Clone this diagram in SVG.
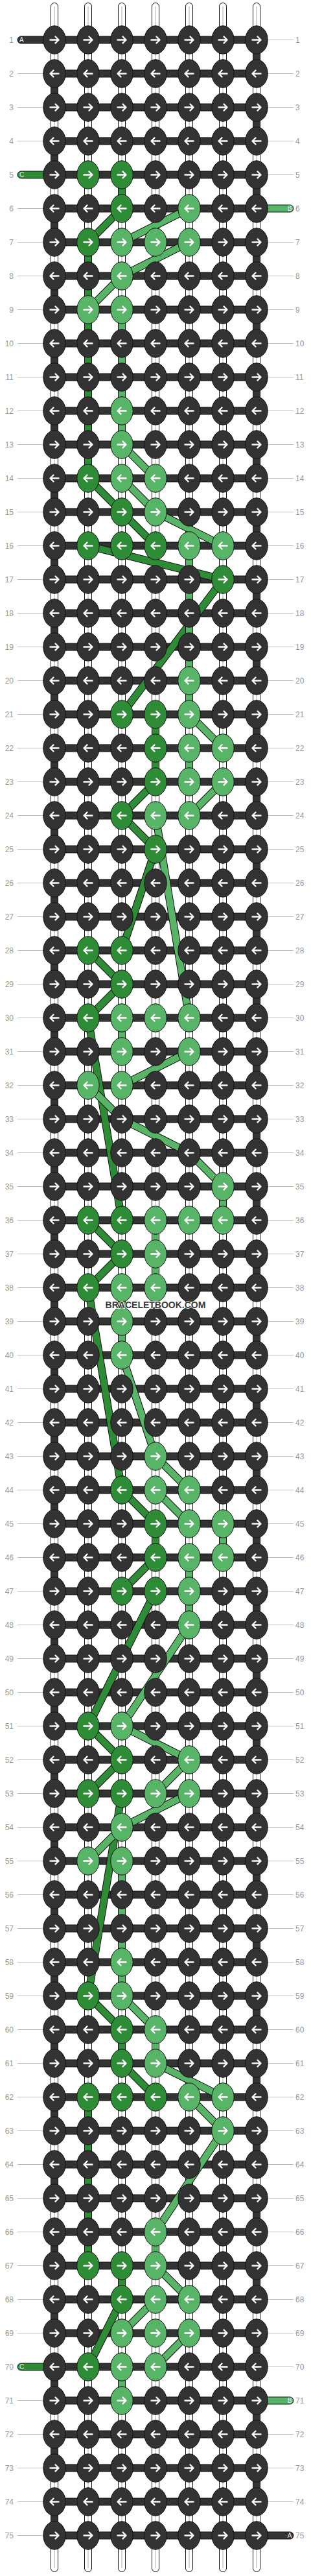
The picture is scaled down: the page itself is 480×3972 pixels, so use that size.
<svg xmlns="http://www.w3.org/2000/svg" width="480" height="3972" viewBox="0 0 480 3972">
<style>
.row{fill:#333}
.g{fill:#2e8c37}
.l{fill:#58b466}
.num{font-family:"Liberation Sans",Arial,sans-serif;font-size:12px;fill:#999}
.tl{font-family:"Liberation Sans",Arial,sans-serif;font-size:10px;fill:#eee}
.str{fill:#fff;stroke:#111;stroke-width:1}
.mid{fill:none;stroke:#c8c8c8;stroke-width:1.5}
.dk{fill:#333;stroke:#111;stroke-width:1}
.co{fill:none;stroke:#111;stroke-width:12;stroke-linejoin:round}
.cg{fill:none;stroke:#2e8c37;stroke-width:10;stroke-linejoin:round}
.cl{fill:none;stroke:#58b466;stroke-width:10;stroke-linejoin:round}
.lab{fill:none;stroke:#bbb;stroke-width:1}
.wm{font-family:"Liberation Sans",Arial,sans-serif;font-size:14px;font-weight:bold;fill:#3a3a3a;stroke:#fff;stroke-width:1.5;paint-order:stroke;text-anchor:middle}
</style>
<defs>
<g id="R"><ellipse rx="17.2" ry="21.7" stroke="#111" stroke-width="1"/><path d="M-6.5,0H6M1.5,-5L6.5,0L1.5,5" fill="none" stroke="#fff" stroke-width="2.4" stroke-linecap="round" stroke-linejoin="round"/></g>
<g id="L"><ellipse rx="17.2" ry="21.7" stroke="#111" stroke-width="1"/><path d="M6.5,0H-6M-1.5,-5L-6.5,0L-1.5,5" fill="none" stroke="#fff" stroke-width="2.4" stroke-linecap="round" stroke-linejoin="round"/></g>
<path id="pg" d="M188,269.5V321.5L136,373.5V737.5L188,789.5L240,841.5M136,841.5L344,893.5L188,1101.5M240,1101.5V1205.5L188,1257.5L240,1309.5L188,1465.5M136,1465.5L188,1517.5L136,1569.5L188,1881.5M136,1881.5L188,1933.5L136,1985.5L188,2297.5L240,2349.5V2401.5L188,2453.5M240,2453.5L136,2661.5L188,2713.5L136,2765.5M188,2765.5L136,3077.5L188,3129.5V3181.5L240,3233.5M136,3233.5V3493.5M188,3493.5V3545.5L136,3649.5"/>
<path id="pl" d="M292,321.5L188,373.5M292,373.5L188,425.5L136,477.5M188,477.5V685.5L240,737.5M188,737.5L240,789.5L344,841.5M292,841.5V1101.5L344,1153.5M292,1153.5V1205.5M344,1205.5L292,1257.5M240,1257.5L292,1569.5M188,1569.5V1621.5M292,1621.5L188,1673.5M136,1673.5L188,1725.5L292,1777.5L344,1829.5V1881.5M240,1881.5V1985.5M188,1985.5V2089.5L240,2245.5L292,2297.5M240,2297.5L292,2349.5M344,2349.5V2401.5M292,2401.5V2505.5L188,2661.5L292,2713.5L240,2765.5M292,2765.5L188,2817.5L136,2869.5M188,2869.5V3077.5L240,3129.5V3181.5L344,3233.5M292,3233.5L344,3285.5L240,3441.5V3493.5L292,3545.5M240,3545.5L188,3597.5M292,3597.5L240,3649.5M188,3649.5V3701.5"/>
</defs>
<rect width="480" height="3972" fill="#fff"/>
<g id="strings">
<rect class="str" x="78.5" y="4.5" width="11" height="3961" rx="5.5"/>
<rect class="str" x="130.5" y="4.5" width="11" height="3961" rx="5.5"/>
<rect class="str" x="182.5" y="4.5" width="11" height="3961" rx="5.5"/>
<rect class="str" x="234.5" y="4.5" width="11" height="3961" rx="5.5"/>
<rect class="str" x="286.5" y="4.5" width="11" height="3961" rx="5.5"/>
<rect class="str" x="338.5" y="4.5" width="11" height="3961" rx="5.5"/>
<rect class="str" x="390.5" y="4.5" width="11" height="3961" rx="5.5"/>
<path class="mid" d="M84,10V3960M136,10V3960M188,10V3960M240,10V3960M292,10V3960M344,10V3960M396,10V3960"/>
</g>
<g id="turns">
<path class="dk" d="M390.5,61.5h11v52h-11z
m0,104h11v52h-11zm0,104h11v52h-11zm0,104h11v52h-11zm0,104h11v52h-11zm0,104h11v52h-11zm0,104h11v52h-11zm0,104h11v52h-11zm0,104h11v52h-11zm0,104h11v52h-11zm0,104h11v52h-11z
m0,104h11v52h-11zm0,104h11v52h-11zm0,104h11v52h-11zm0,104h11v52h-11zm0,104h11v52h-11zm0,104h11v52h-11zm0,104h11v52h-11zm0,104h11v52h-11zm0,104h11v52h-11zm0,104h11v52h-11z
m0,104h11v52h-11zm0,104h11v52h-11zm0,104h11v52h-11zm0,104h11v52h-11zm0,104h11v52h-11zm0,104h11v52h-11zm0,104h11v52h-11zm0,104h11v52h-11zm0,104h11v52h-11zm0,104h11v52h-11z
m0,104h11v52h-11zm0,104h11v52h-11zm0,104h11v52h-11zm0,104h11v52h-11zm0,104h11v52h-11zm0,104h11v52h-11z"/>
<path class="dk" d="M78.5,113.5h11v52h-11z
m0,104h11v52h-11zm0,104h11v52h-11zm0,104h11v52h-11zm0,104h11v52h-11zm0,104h11v52h-11zm0,104h11v52h-11zm0,104h11v52h-11zm0,104h11v52h-11zm0,104h11v52h-11zm0,104h11v52h-11z
m0,104h11v52h-11zm0,104h11v52h-11zm0,104h11v52h-11zm0,104h11v52h-11zm0,104h11v52h-11zm0,104h11v52h-11zm0,104h11v52h-11zm0,104h11v52h-11zm0,104h11v52h-11zm0,104h11v52h-11z
m0,104h11v52h-11zm0,104h11v52h-11zm0,104h11v52h-11zm0,104h11v52h-11zm0,104h11v52h-11zm0,104h11v52h-11zm0,104h11v52h-11zm0,104h11v52h-11zm0,104h11v52h-11zm0,104h11v52h-11z
m0,104h11v52h-11zm0,104h11v52h-11zm0,104h11v52h-11zm0,104h11v52h-11zm0,104h11v52h-11zm0,104h11v52h-11z"/>
</g>
<g id="bars">
<path class="dk" d="M84,56h312v11h-312z
m0,52h312v11h-312zm0,52h312v11h-312zm0,52h312v11h-312zm0,52h312v11h-312zm0,52h312v11h-312zm0,52h312v11h-312zm0,52h312v11h-312zm0,52h312v11h-312zm0,52h312v11h-312zm0,52h312v11h-312z
m0,52h312v11h-312zm0,52h312v11h-312zm0,52h312v11h-312zm0,52h312v11h-312zm0,52h312v11h-312zm0,52h312v11h-312zm0,52h312v11h-312zm0,52h312v11h-312zm0,52h312v11h-312zm0,52h312v11h-312z
m0,52h312v11h-312zm0,52h312v11h-312zm0,52h312v11h-312zm0,52h312v11h-312zm0,52h312v11h-312zm0,52h312v11h-312zm0,52h312v11h-312zm0,52h312v11h-312zm0,52h312v11h-312zm0,52h312v11h-312z
m0,52h312v11h-312zm0,52h312v11h-312zm0,52h312v11h-312zm0,52h312v11h-312zm0,52h312v11h-312zm0,52h312v11h-312zm0,52h312v11h-312zm0,52h312v11h-312zm0,52h312v11h-312zm0,52h312v11h-312z
m0,52h312v11h-312zm0,52h312v11h-312zm0,52h312v11h-312zm0,52h312v11h-312zm0,52h312v11h-312zm0,52h312v11h-312zm0,52h312v11h-312zm0,52h312v11h-312zm0,52h312v11h-312zm0,52h312v11h-312z
m0,52h312v11h-312zm0,52h312v11h-312zm0,52h312v11h-312zm0,52h312v11h-312zm0,52h312v11h-312zm0,52h312v11h-312zm0,52h312v11h-312zm0,52h312v11h-312zm0,52h312v11h-312zm0,52h312v11h-312z
m0,52h312v11h-312zm0,52h312v11h-312zm0,52h312v11h-312zm0,52h312v11h-312zm0,52h312v11h-312zm0,52h312v11h-312zm0,52h312v11h-312zm0,52h312v11h-312zm0,52h312v11h-312zm0,52h312v11h-312z
m0,52h312v11h-312zm0,52h312v11h-312zm0,52h312v11h-312zm0,52h312v11h-312z"/>
</g>
<g id="label-lines">
<path class="lab" d="M27,61.5h40
m-40,52h40m-40,52h40m-40,52h40m-40,52h40m-40,52h40m-40,52h40m-40,52h40m-40,52h40m-40,52h40m-40,52h40
m-40,52h40m-40,52h40m-40,52h40m-40,52h40m-40,52h40m-40,52h40m-40,52h40m-40,52h40m-40,52h40m-40,52h40
m-40,52h40m-40,52h40m-40,52h40m-40,52h40m-40,52h40m-40,52h40m-40,52h40m-40,52h40m-40,52h40m-40,52h40
m-40,52h40m-40,52h40m-40,52h40m-40,52h40m-40,52h40m-40,52h40m-40,52h40m-40,52h40m-40,52h40m-40,52h40
m-40,52h40m-40,52h40m-40,52h40m-40,52h40m-40,52h40m-40,52h40m-40,52h40m-40,52h40m-40,52h40m-40,52h40
m-40,52h40m-40,52h40m-40,52h40m-40,52h40m-40,52h40m-40,52h40m-40,52h40m-40,52h40m-40,52h40m-40,52h40
m-40,52h40m-40,52h40m-40,52h40m-40,52h40m-40,52h40m-40,52h40m-40,52h40m-40,52h40m-40,52h40m-40,52h40
m-40,52h40m-40,52h40m-40,52h40m-40,52h40"/>
<path class="lab" d="M413,61.5h40
m-40,52h40m-40,52h40m-40,52h40m-40,52h40m-40,52h40m-40,52h40m-40,52h40m-40,52h40m-40,52h40m-40,52h40
m-40,52h40m-40,52h40m-40,52h40m-40,52h40m-40,52h40m-40,52h40m-40,52h40m-40,52h40m-40,52h40m-40,52h40
m-40,52h40m-40,52h40m-40,52h40m-40,52h40m-40,52h40m-40,52h40m-40,52h40m-40,52h40m-40,52h40m-40,52h40
m-40,52h40m-40,52h40m-40,52h40m-40,52h40m-40,52h40m-40,52h40m-40,52h40m-40,52h40m-40,52h40m-40,52h40
m-40,52h40m-40,52h40m-40,52h40m-40,52h40m-40,52h40m-40,52h40m-40,52h40m-40,52h40m-40,52h40m-40,52h40
m-40,52h40m-40,52h40m-40,52h40m-40,52h40m-40,52h40m-40,52h40m-40,52h40m-40,52h40m-40,52h40m-40,52h40
m-40,52h40m-40,52h40m-40,52h40m-40,52h40m-40,52h40m-40,52h40m-40,52h40m-40,52h40m-40,52h40m-40,52h40
m-40,52h40m-40,52h40m-40,52h40m-40,52h40"/>
</g>
<g id="tails">
<g id="tail-A-start"><path class="dk" d="M84,56H32.5a5.5,5.5 0 0 0 0,11H84Z"/><text class="tl" x="30" y="65">A</text></g>
<g id="tail-C-start"><path d="M84,264H32.5a5.5,5.5 0 0 0 0,11H84Z" fill="#2e8c37" stroke="#111"/><text class="tl" x="30" y="273">C</text></g>
<g id="tail-B-start"><path d="M396,316H447.5a5.5,5.5 0 0 1 0,11H396Z" fill="#58b466" stroke="#111"/><text class="tl" x="450.5" y="325" text-anchor="end">B</text></g>
<g id="tail-C-end"><path d="M84,3644H32.5a5.5,5.5 0 0 0 0,11H84Z" fill="#2e8c37" stroke="#111"/><text class="tl" x="30" y="3653">C</text></g>
<g id="tail-B-end"><path d="M396,3696H447.5a5.5,5.5 0 0 1 0,11H396Z" fill="#58b466" stroke="#111"/><text class="tl" x="450.5" y="3705" text-anchor="end">B</text></g>
<g id="tail-A-end"><path class="dk" d="M396,3904H447.5a5.5,5.5 0 0 1 0,11H396Z"/><text class="tl" x="450.5" y="3913" text-anchor="end">A</text></g>
</g>
<g id="connectors">
<use href="#pg" class="co"/>
<use href="#pg" class="cg"/>
<use href="#pl" class="co"/>
<use href="#pl" class="cl"/>
</g>
<g id="knots">
<g id="row-1" class="row" transform="translate(0,61.5)"><use href="#R" x="84"/><use href="#R" x="136"/><use href="#R" x="188"/><use href="#R" x="240"/><use href="#R" x="292"/><use href="#R" x="344"/><use href="#R" x="396"/></g>
<g id="row-2" class="row" transform="translate(0,113.5)"><use href="#L" x="84"/><use href="#L" x="136"/><use href="#L" x="188"/><use href="#L" x="240"/><use href="#L" x="292"/><use href="#L" x="344"/><use href="#L" x="396"/></g>
<g id="row-3" class="row" transform="translate(0,165.5)"><use href="#R" x="84"/><use href="#R" x="136"/><use href="#R" x="188"/><use href="#R" x="240"/><use href="#R" x="292"/><use href="#R" x="344"/><use href="#R" x="396"/></g>
<g id="row-4" class="row" transform="translate(0,217.5)"><use href="#L" x="84"/><use href="#L" x="136"/><use href="#L" x="188"/><use href="#L" x="240"/><use href="#L" x="292"/><use href="#L" x="344"/><use href="#L" x="396"/></g>
<g id="row-5" class="row" transform="translate(0,269.5)"><use href="#R" x="84"/><use href="#R" x="136" class="g"/><use href="#R" x="188" class="g"/><use href="#R" x="240"/><use href="#R" x="292"/><use href="#R" x="344"/><use href="#R" x="396"/></g>
<g id="row-6" class="row" transform="translate(0,321.5)"><use href="#L" x="84"/><use href="#L" x="136"/><use href="#L" x="188" class="g"/><use href="#L" x="240"/><use href="#L" x="292" class="l"/><use href="#L" x="344"/><use href="#L" x="396"/></g>
<g id="row-7" class="row" transform="translate(0,373.5)"><use href="#R" x="84"/><use href="#R" x="136" class="g"/><use href="#R" x="188" class="l"/><use href="#R" x="240" class="l"/><use href="#R" x="292" class="l"/><use href="#R" x="344"/><use href="#R" x="396"/></g>
<g id="row-8" class="row" transform="translate(0,425.5)"><use href="#L" x="84"/><use href="#L" x="136"/><use href="#L" x="188" class="l"/><use href="#L" x="240"/><use href="#L" x="292"/><use href="#L" x="344"/><use href="#L" x="396"/></g>
<g id="row-9" class="row" transform="translate(0,477.5)"><use href="#R" x="84"/><use href="#R" x="136" class="l"/><use href="#R" x="188" class="l"/><use href="#R" x="240"/><use href="#R" x="292"/><use href="#R" x="344"/><use href="#R" x="396"/></g>
<g id="row-10" class="row" transform="translate(0,529.5)"><use href="#L" x="84"/><use href="#L" x="136"/><use href="#L" x="188"/><use href="#L" x="240"/><use href="#L" x="292"/><use href="#L" x="344"/><use href="#L" x="396"/></g>
<g id="row-11" class="row" transform="translate(0,581.5)"><use href="#R" x="84"/><use href="#R" x="136"/><use href="#R" x="188"/><use href="#R" x="240"/><use href="#R" x="292"/><use href="#R" x="344"/><use href="#R" x="396"/></g>
<g id="row-12" class="row" transform="translate(0,633.5)"><use href="#L" x="84"/><use href="#L" x="136"/><use href="#L" x="188" class="l"/><use href="#L" x="240"/><use href="#L" x="292"/><use href="#L" x="344"/><use href="#L" x="396"/></g>
<g id="row-13" class="row" transform="translate(0,685.5)"><use href="#R" x="84"/><use href="#R" x="136"/><use href="#R" x="188" class="l"/><use href="#R" x="240"/><use href="#R" x="292"/><use href="#R" x="344"/><use href="#R" x="396"/></g>
<g id="row-14" class="row" transform="translate(0,737.5)"><use href="#L" x="84"/><use href="#L" x="136" class="g"/><use href="#L" x="188" class="l"/><use href="#L" x="240" class="l"/><use href="#L" x="292"/><use href="#L" x="344"/><use href="#L" x="396"/></g>
<g id="row-15" class="row" transform="translate(0,789.5)"><use href="#R" x="84"/><use href="#R" x="136"/><use href="#R" x="188" class="g"/><use href="#R" x="240" class="l"/><use href="#R" x="292"/><use href="#R" x="344"/><use href="#R" x="396"/></g>
<g id="row-16" class="row" transform="translate(0,841.5)"><use href="#L" x="84"/><use href="#L" x="136" class="g"/><use href="#L" x="188" class="g"/><use href="#L" x="240" class="g"/><use href="#L" x="292" class="l"/><use href="#L" x="344" class="l"/><use href="#L" x="396"/></g>
<g id="row-17" class="row" transform="translate(0,893.5)"><use href="#R" x="84"/><use href="#R" x="136"/><use href="#R" x="188"/><use href="#R" x="240"/><use href="#R" x="292"/><use href="#R" x="344" class="g"/><use href="#R" x="396"/></g>
<g id="row-18" class="row" transform="translate(0,945.5)"><use href="#L" x="84"/><use href="#L" x="136"/><use href="#L" x="188"/><use href="#L" x="240"/><use href="#L" x="292"/><use href="#L" x="344"/><use href="#L" x="396"/></g>
<g id="row-19" class="row" transform="translate(0,997.5)"><use href="#R" x="84"/><use href="#R" x="136"/><use href="#R" x="188"/><use href="#R" x="240"/><use href="#R" x="292"/><use href="#R" x="344"/><use href="#R" x="396"/></g>
<g id="row-20" class="row" transform="translate(0,1049.5)"><use href="#L" x="84"/><use href="#L" x="136"/><use href="#L" x="188"/><use href="#L" x="240"/><use href="#L" x="292" class="l"/><use href="#L" x="344"/><use href="#L" x="396"/></g>
<g id="row-21" class="row" transform="translate(0,1101.5)"><use href="#R" x="84"/><use href="#R" x="136"/><use href="#R" x="188" class="g"/><use href="#R" x="240" class="g"/><use href="#R" x="292" class="l"/><use href="#R" x="344"/><use href="#R" x="396"/></g>
<g id="row-22" class="row" transform="translate(0,1153.5)"><use href="#L" x="84"/><use href="#L" x="136"/><use href="#L" x="188"/><use href="#L" x="240" class="g"/><use href="#L" x="292" class="l"/><use href="#L" x="344" class="l"/><use href="#L" x="396"/></g>
<g id="row-23" class="row" transform="translate(0,1205.5)"><use href="#R" x="84"/><use href="#R" x="136"/><use href="#R" x="188"/><use href="#R" x="240" class="g"/><use href="#R" x="292" class="l"/><use href="#R" x="344" class="l"/><use href="#R" x="396"/></g>
<g id="row-24" class="row" transform="translate(0,1257.5)"><use href="#L" x="84"/><use href="#L" x="136"/><use href="#L" x="188" class="g"/><use href="#L" x="240" class="l"/><use href="#L" x="292" class="l"/><use href="#L" x="344"/><use href="#L" x="396"/></g>
<g id="row-25" class="row" transform="translate(0,1309.5)"><use href="#R" x="84"/><use href="#R" x="136"/><use href="#R" x="188"/><use href="#R" x="240" class="g"/><use href="#R" x="292"/><use href="#R" x="344"/><use href="#R" x="396"/></g>
<g id="row-26" class="row" transform="translate(0,1361.5)"><use href="#L" x="84"/><use href="#L" x="136"/><use href="#L" x="188"/><use href="#L" x="240"/><use href="#L" x="292"/><use href="#L" x="344"/><use href="#L" x="396"/></g>
<g id="row-27" class="row" transform="translate(0,1413.5)"><use href="#R" x="84"/><use href="#R" x="136"/><use href="#R" x="188"/><use href="#R" x="240"/><use href="#R" x="292"/><use href="#R" x="344"/><use href="#R" x="396"/></g>
<g id="row-28" class="row" transform="translate(0,1465.5)"><use href="#L" x="84"/><use href="#L" x="136" class="g"/><use href="#L" x="188" class="g"/><use href="#L" x="240"/><use href="#L" x="292"/><use href="#L" x="344"/><use href="#L" x="396"/></g>
<g id="row-29" class="row" transform="translate(0,1517.5)"><use href="#R" x="84"/><use href="#R" x="136"/><use href="#R" x="188" class="g"/><use href="#R" x="240"/><use href="#R" x="292"/><use href="#R" x="344"/><use href="#R" x="396"/></g>
<g id="row-30" class="row" transform="translate(0,1569.5)"><use href="#L" x="84"/><use href="#L" x="136" class="g"/><use href="#L" x="188" class="l"/><use href="#L" x="240" class="l"/><use href="#L" x="292" class="l"/><use href="#L" x="344"/><use href="#L" x="396"/></g>
<g id="row-31" class="row" transform="translate(0,1621.5)"><use href="#R" x="84"/><use href="#R" x="136"/><use href="#R" x="188" class="l"/><use href="#R" x="240"/><use href="#R" x="292" class="l"/><use href="#R" x="344"/><use href="#R" x="396"/></g>
<g id="row-32" class="row" transform="translate(0,1673.5)"><use href="#L" x="84"/><use href="#L" x="136" class="l"/><use href="#L" x="188" class="l"/><use href="#L" x="240"/><use href="#L" x="292"/><use href="#L" x="344"/><use href="#L" x="396"/></g>
<g id="row-33" class="row" transform="translate(0,1725.5)"><use href="#R" x="84"/><use href="#R" x="136"/><use href="#R" x="188"/><use href="#R" x="240"/><use href="#R" x="292"/><use href="#R" x="344"/><use href="#R" x="396"/></g>
<g id="row-34" class="row" transform="translate(0,1777.5)"><use href="#L" x="84"/><use href="#L" x="136"/><use href="#L" x="188"/><use href="#L" x="240"/><use href="#L" x="292"/><use href="#L" x="344"/><use href="#L" x="396"/></g>
<g id="row-35" class="row" transform="translate(0,1829.5)"><use href="#R" x="84"/><use href="#R" x="136"/><use href="#R" x="188"/><use href="#R" x="240"/><use href="#R" x="292"/><use href="#R" x="344" class="l"/><use href="#R" x="396"/></g>
<g id="row-36" class="row" transform="translate(0,1881.5)"><use href="#L" x="84"/><use href="#L" x="136" class="g"/><use href="#L" x="188" class="g"/><use href="#L" x="240" class="l"/><use href="#L" x="292" class="l"/><use href="#L" x="344" class="l"/><use href="#L" x="396"/></g>
<g id="row-37" class="row" transform="translate(0,1933.5)"><use href="#R" x="84"/><use href="#R" x="136"/><use href="#R" x="188" class="g"/><use href="#R" x="240" class="l"/><use href="#R" x="292"/><use href="#R" x="344"/><use href="#R" x="396"/></g>
<g id="row-38" class="row" transform="translate(0,1985.5)"><use href="#L" x="84"/><use href="#L" x="136" class="g"/><use href="#L" x="188" class="l"/><use href="#L" x="240" class="l"/><use href="#L" x="292"/><use href="#L" x="344"/><use href="#L" x="396"/></g>
<g id="row-39" class="row" transform="translate(0,2037.5)"><use href="#R" x="84"/><use href="#R" x="136"/><use href="#R" x="188" class="l"/><use href="#R" x="240"/><use href="#R" x="292"/><use href="#R" x="344"/><use href="#R" x="396"/></g>
<g id="row-40" class="row" transform="translate(0,2089.5)"><use href="#L" x="84"/><use href="#L" x="136"/><use href="#L" x="188" class="l"/><use href="#L" x="240"/><use href="#L" x="292"/><use href="#L" x="344"/><use href="#L" x="396"/></g>
<g id="row-41" class="row" transform="translate(0,2141.5)"><use href="#R" x="84"/><use href="#R" x="136"/><use href="#R" x="188"/><use href="#R" x="240"/><use href="#R" x="292"/><use href="#R" x="344"/><use href="#R" x="396"/></g>
<g id="row-42" class="row" transform="translate(0,2193.5)"><use href="#L" x="84"/><use href="#L" x="136"/><use href="#L" x="188"/><use href="#L" x="240"/><use href="#L" x="292"/><use href="#L" x="344"/><use href="#L" x="396"/></g>
<g id="row-43" class="row" transform="translate(0,2245.5)"><use href="#R" x="84"/><use href="#R" x="136"/><use href="#R" x="188"/><use href="#R" x="240" class="l"/><use href="#R" x="292"/><use href="#R" x="344"/><use href="#R" x="396"/></g>
<g id="row-44" class="row" transform="translate(0,2297.5)"><use href="#L" x="84"/><use href="#L" x="136"/><use href="#L" x="188" class="g"/><use href="#L" x="240" class="l"/><use href="#L" x="292" class="l"/><use href="#L" x="344"/><use href="#L" x="396"/></g>
<g id="row-45" class="row" transform="translate(0,2349.5)"><use href="#R" x="84"/><use href="#R" x="136"/><use href="#R" x="188"/><use href="#R" x="240" class="g"/><use href="#R" x="292" class="l"/><use href="#R" x="344" class="l"/><use href="#R" x="396"/></g>
<g id="row-46" class="row" transform="translate(0,2401.5)"><use href="#L" x="84"/><use href="#L" x="136"/><use href="#L" x="188"/><use href="#L" x="240" class="g"/><use href="#L" x="292" class="l"/><use href="#L" x="344" class="l"/><use href="#L" x="396"/></g>
<g id="row-47" class="row" transform="translate(0,2453.5)"><use href="#R" x="84"/><use href="#R" x="136"/><use href="#R" x="188" class="g"/><use href="#R" x="240" class="g"/><use href="#R" x="292" class="l"/><use href="#R" x="344"/><use href="#R" x="396"/></g>
<g id="row-48" class="row" transform="translate(0,2505.5)"><use href="#L" x="84"/><use href="#L" x="136"/><use href="#L" x="188"/><use href="#L" x="240"/><use href="#L" x="292" class="l"/><use href="#L" x="344"/><use href="#L" x="396"/></g>
<g id="row-49" class="row" transform="translate(0,2557.5)"><use href="#R" x="84"/><use href="#R" x="136"/><use href="#R" x="188"/><use href="#R" x="240"/><use href="#R" x="292"/><use href="#R" x="344"/><use href="#R" x="396"/></g>
<g id="row-50" class="row" transform="translate(0,2609.5)"><use href="#L" x="84"/><use href="#L" x="136"/><use href="#L" x="188"/><use href="#L" x="240"/><use href="#L" x="292"/><use href="#L" x="344"/><use href="#L" x="396"/></g>
<g id="row-51" class="row" transform="translate(0,2661.5)"><use href="#R" x="84"/><use href="#R" x="136" class="g"/><use href="#R" x="188" class="l"/><use href="#R" x="240"/><use href="#R" x="292"/><use href="#R" x="344"/><use href="#R" x="396"/></g>
<g id="row-52" class="row" transform="translate(0,2713.5)"><use href="#L" x="84"/><use href="#L" x="136"/><use href="#L" x="188" class="g"/><use href="#L" x="240"/><use href="#L" x="292" class="l"/><use href="#L" x="344"/><use href="#L" x="396"/></g>
<g id="row-53" class="row" transform="translate(0,2765.5)"><use href="#R" x="84"/><use href="#R" x="136" class="g"/><use href="#R" x="188" class="g"/><use href="#R" x="240" class="l"/><use href="#R" x="292" class="l"/><use href="#R" x="344"/><use href="#R" x="396"/></g>
<g id="row-54" class="row" transform="translate(0,2817.5)"><use href="#L" x="84"/><use href="#L" x="136"/><use href="#L" x="188" class="l"/><use href="#L" x="240"/><use href="#L" x="292"/><use href="#L" x="344"/><use href="#L" x="396"/></g>
<g id="row-55" class="row" transform="translate(0,2869.5)"><use href="#R" x="84"/><use href="#R" x="136" class="l"/><use href="#R" x="188" class="l"/><use href="#R" x="240"/><use href="#R" x="292"/><use href="#R" x="344"/><use href="#R" x="396"/></g>
<g id="row-56" class="row" transform="translate(0,2921.5)"><use href="#L" x="84"/><use href="#L" x="136"/><use href="#L" x="188"/><use href="#L" x="240"/><use href="#L" x="292"/><use href="#L" x="344"/><use href="#L" x="396"/></g>
<g id="row-57" class="row" transform="translate(0,2973.5)"><use href="#R" x="84"/><use href="#R" x="136"/><use href="#R" x="188"/><use href="#R" x="240"/><use href="#R" x="292"/><use href="#R" x="344"/><use href="#R" x="396"/></g>
<g id="row-58" class="row" transform="translate(0,3025.5)"><use href="#L" x="84"/><use href="#L" x="136"/><use href="#L" x="188" class="l"/><use href="#L" x="240"/><use href="#L" x="292"/><use href="#L" x="344"/><use href="#L" x="396"/></g>
<g id="row-59" class="row" transform="translate(0,3077.5)"><use href="#R" x="84"/><use href="#R" x="136" class="g"/><use href="#R" x="188" class="l"/><use href="#R" x="240"/><use href="#R" x="292"/><use href="#R" x="344"/><use href="#R" x="396"/></g>
<g id="row-60" class="row" transform="translate(0,3129.5)"><use href="#L" x="84"/><use href="#L" x="136"/><use href="#L" x="188" class="g"/><use href="#L" x="240" class="l"/><use href="#L" x="292"/><use href="#L" x="344"/><use href="#L" x="396"/></g>
<g id="row-61" class="row" transform="translate(0,3181.5)"><use href="#R" x="84"/><use href="#R" x="136"/><use href="#R" x="188" class="g"/><use href="#R" x="240" class="l"/><use href="#R" x="292"/><use href="#R" x="344"/><use href="#R" x="396"/></g>
<g id="row-62" class="row" transform="translate(0,3233.5)"><use href="#L" x="84"/><use href="#L" x="136" class="g"/><use href="#L" x="188" class="g"/><use href="#L" x="240" class="g"/><use href="#L" x="292" class="l"/><use href="#L" x="344" class="l"/><use href="#L" x="396"/></g>
<g id="row-63" class="row" transform="translate(0,3285.5)"><use href="#R" x="84"/><use href="#R" x="136"/><use href="#R" x="188"/><use href="#R" x="240"/><use href="#R" x="292"/><use href="#R" x="344" class="l"/><use href="#R" x="396"/></g>
<g id="row-64" class="row" transform="translate(0,3337.5)"><use href="#L" x="84"/><use href="#L" x="136"/><use href="#L" x="188"/><use href="#L" x="240"/><use href="#L" x="292"/><use href="#L" x="344"/><use href="#L" x="396"/></g>
<g id="row-65" class="row" transform="translate(0,3389.5)"><use href="#R" x="84"/><use href="#R" x="136"/><use href="#R" x="188"/><use href="#R" x="240"/><use href="#R" x="292"/><use href="#R" x="344"/><use href="#R" x="396"/></g>
<g id="row-66" class="row" transform="translate(0,3441.5)"><use href="#L" x="84"/><use href="#L" x="136"/><use href="#L" x="188"/><use href="#L" x="240" class="l"/><use href="#L" x="292"/><use href="#L" x="344"/><use href="#L" x="396"/></g>
<g id="row-67" class="row" transform="translate(0,3493.5)"><use href="#R" x="84"/><use href="#R" x="136" class="g"/><use href="#R" x="188" class="g"/><use href="#R" x="240" class="l"/><use href="#R" x="292"/><use href="#R" x="344"/><use href="#R" x="396"/></g>
<g id="row-68" class="row" transform="translate(0,3545.5)"><use href="#L" x="84"/><use href="#L" x="136"/><use href="#L" x="188" class="g"/><use href="#L" x="240" class="l"/><use href="#L" x="292" class="l"/><use href="#L" x="344"/><use href="#L" x="396"/></g>
<g id="row-69" class="row" transform="translate(0,3597.5)"><use href="#R" x="84"/><use href="#R" x="136"/><use href="#R" x="188" class="l"/><use href="#R" x="240" class="l"/><use href="#R" x="292" class="l"/><use href="#R" x="344"/><use href="#R" x="396"/></g>
<g id="row-70" class="row" transform="translate(0,3649.5)"><use href="#L" x="84"/><use href="#L" x="136" class="g"/><use href="#L" x="188" class="l"/><use href="#L" x="240" class="l"/><use href="#L" x="292"/><use href="#L" x="344"/><use href="#L" x="396"/></g>
<g id="row-71" class="row" transform="translate(0,3701.5)"><use href="#R" x="84"/><use href="#R" x="136"/><use href="#R" x="188" class="l"/><use href="#R" x="240"/><use href="#R" x="292"/><use href="#R" x="344"/><use href="#R" x="396"/></g>
<g id="row-72" class="row" transform="translate(0,3753.5)"><use href="#L" x="84"/><use href="#L" x="136"/><use href="#L" x="188"/><use href="#L" x="240"/><use href="#L" x="292"/><use href="#L" x="344"/><use href="#L" x="396"/></g>
<g id="row-73" class="row" transform="translate(0,3805.5)"><use href="#R" x="84"/><use href="#R" x="136"/><use href="#R" x="188"/><use href="#R" x="240"/><use href="#R" x="292"/><use href="#R" x="344"/><use href="#R" x="396"/></g>
<g id="row-74" class="row" transform="translate(0,3857.5)"><use href="#L" x="84"/><use href="#L" x="136"/><use href="#L" x="188"/><use href="#L" x="240"/><use href="#L" x="292"/><use href="#L" x="344"/><use href="#L" x="396"/></g>
<g id="row-75" class="row" transform="translate(0,3909.5)"><use href="#R" x="84"/><use href="#R" x="136"/><use href="#R" x="188"/><use href="#R" x="240"/><use href="#R" x="292"/><use href="#R" x="344"/><use href="#R" x="396"/></g>
</g>
<g id="row-numbers-left" class="num" text-anchor="end">
<text x="21" y="66">1</text><text x="21" y="118">2</text><text x="21" y="170">3</text><text x="21" y="222">4</text><text x="21" y="274">5</text><text x="21" y="326">6</text><text x="21" y="378">7</text><text x="21" y="430">8</text><text x="21" y="482">9</text><text x="21" y="534">10</text>
<text x="21" y="586">11</text><text x="21" y="638">12</text><text x="21" y="690">13</text><text x="21" y="742">14</text><text x="21" y="794">15</text><text x="21" y="846">16</text><text x="21" y="898">17</text><text x="21" y="950">18</text><text x="21" y="1002">19</text><text x="21" y="1054">20</text>
<text x="21" y="1106">21</text><text x="21" y="1158">22</text><text x="21" y="1210">23</text><text x="21" y="1262">24</text><text x="21" y="1314">25</text><text x="21" y="1366">26</text><text x="21" y="1418">27</text><text x="21" y="1470">28</text><text x="21" y="1522">29</text><text x="21" y="1574">30</text>
<text x="21" y="1626">31</text><text x="21" y="1678">32</text><text x="21" y="1730">33</text><text x="21" y="1782">34</text><text x="21" y="1834">35</text><text x="21" y="1886">36</text><text x="21" y="1938">37</text><text x="21" y="1990">38</text><text x="21" y="2042">39</text><text x="21" y="2094">40</text>
<text x="21" y="2146">41</text><text x="21" y="2198">42</text><text x="21" y="2250">43</text><text x="21" y="2302">44</text><text x="21" y="2354">45</text><text x="21" y="2406">46</text><text x="21" y="2458">47</text><text x="21" y="2510">48</text><text x="21" y="2562">49</text><text x="21" y="2614">50</text>
<text x="21" y="2666">51</text><text x="21" y="2718">52</text><text x="21" y="2770">53</text><text x="21" y="2822">54</text><text x="21" y="2874">55</text><text x="21" y="2926">56</text><text x="21" y="2978">57</text><text x="21" y="3030">58</text><text x="21" y="3082">59</text><text x="21" y="3134">60</text>
<text x="21" y="3186">61</text><text x="21" y="3238">62</text><text x="21" y="3290">63</text><text x="21" y="3342">64</text><text x="21" y="3394">65</text><text x="21" y="3446">66</text><text x="21" y="3498">67</text><text x="21" y="3550">68</text><text x="21" y="3602">69</text><text x="21" y="3654">70</text>
<text x="21" y="3706">71</text><text x="21" y="3758">72</text><text x="21" y="3810">73</text><text x="21" y="3862">74</text><text x="21" y="3914">75</text>
</g>
<g id="row-numbers-right" class="num">
<text x="456" y="66">1</text><text x="456" y="118">2</text><text x="456" y="170">3</text><text x="456" y="222">4</text><text x="456" y="274">5</text><text x="456" y="326">6</text><text x="456" y="378">7</text><text x="456" y="430">8</text><text x="456" y="482">9</text><text x="456" y="534">10</text>
<text x="456" y="586">11</text><text x="456" y="638">12</text><text x="456" y="690">13</text><text x="456" y="742">14</text><text x="456" y="794">15</text><text x="456" y="846">16</text><text x="456" y="898">17</text><text x="456" y="950">18</text><text x="456" y="1002">19</text><text x="456" y="1054">20</text>
<text x="456" y="1106">21</text><text x="456" y="1158">22</text><text x="456" y="1210">23</text><text x="456" y="1262">24</text><text x="456" y="1314">25</text><text x="456" y="1366">26</text><text x="456" y="1418">27</text><text x="456" y="1470">28</text><text x="456" y="1522">29</text><text x="456" y="1574">30</text>
<text x="456" y="1626">31</text><text x="456" y="1678">32</text><text x="456" y="1730">33</text><text x="456" y="1782">34</text><text x="456" y="1834">35</text><text x="456" y="1886">36</text><text x="456" y="1938">37</text><text x="456" y="1990">38</text><text x="456" y="2042">39</text><text x="456" y="2094">40</text>
<text x="456" y="2146">41</text><text x="456" y="2198">42</text><text x="456" y="2250">43</text><text x="456" y="2302">44</text><text x="456" y="2354">45</text><text x="456" y="2406">46</text><text x="456" y="2458">47</text><text x="456" y="2510">48</text><text x="456" y="2562">49</text><text x="456" y="2614">50</text>
<text x="456" y="2666">51</text><text x="456" y="2718">52</text><text x="456" y="2770">53</text><text x="456" y="2822">54</text><text x="456" y="2874">55</text><text x="456" y="2926">56</text><text x="456" y="2978">57</text><text x="456" y="3030">58</text><text x="456" y="3082">59</text><text x="456" y="3134">60</text>
<text x="456" y="3186">61</text><text x="456" y="3238">62</text><text x="456" y="3290">63</text><text x="456" y="3342">64</text><text x="456" y="3394">65</text><text x="456" y="3446">66</text><text x="456" y="3498">67</text><text x="456" y="3550">68</text><text x="456" y="3602">69</text><text x="456" y="3654">70</text>
<text x="456" y="3706">71</text><text x="456" y="3758">72</text><text x="456" y="3810">73</text><text x="456" y="3862">74</text><text x="456" y="3914">75</text>
</g>
<text id="watermark" class="wm" x="240" y="2017">BRACELETBOOK.COM</text>
</svg>
